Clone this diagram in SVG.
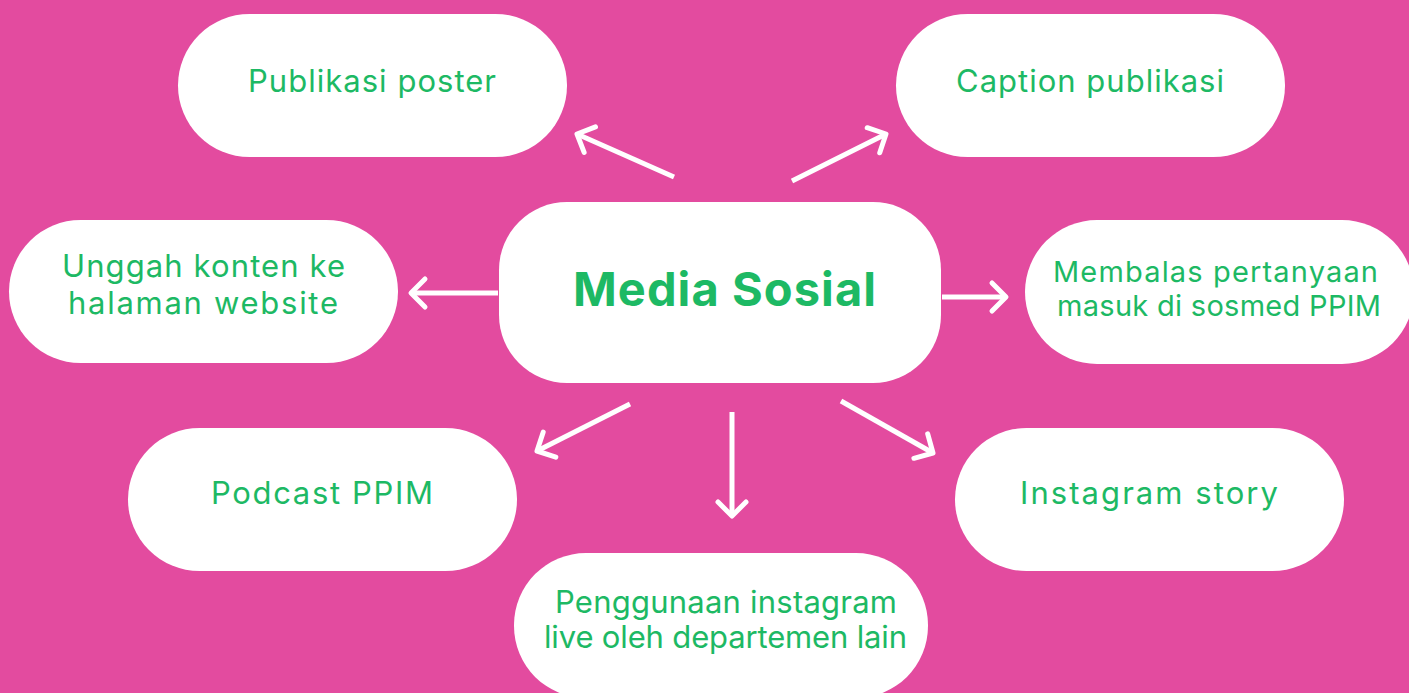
<svg xmlns="http://www.w3.org/2000/svg" width="1409" height="693" viewBox="0 0 1409 693">
<defs>
<style>
.node rect{fill:#ffffff}
.lbl{font-family:"Inter","Liberation Sans",sans-serif;font-size:31px;fill:#1DB964;text-anchor:middle}
.main{font-family:"Inter","Liberation Sans",sans-serif;font-size:47px;font-weight:700;fill:#1DB964;text-anchor:middle}
.conn line{stroke:#ffffff;stroke-width:5;marker-end:url(#ah)}
</style>
<marker id="ah" markerUnits="userSpaceOnUse" markerWidth="40" markerHeight="40" refX="20" refY="20" orient="auto" viewBox="0 0 40 40">
<polyline points="6,6 20,20 6,34" fill="none" stroke="#ffffff" stroke-width="5" stroke-linecap="round" stroke-linejoin="round"/>
</marker>
</defs>
<rect width="1409" height="693" fill="#E34B9F"/>
<g id="connectors" class="conn">
<line x1="674" y1="177" x2="577" y2="134"/>
<line x1="792" y1="181" x2="886" y2="134"/>
<line x1="498" y1="293" x2="411" y2="293"/>
<line x1="942" y1="297" x2="1006" y2="297"/>
<line x1="630" y1="404" x2="537" y2="451"/>
<line x1="732" y1="412" x2="732" y2="516"/>
<line x1="841" y1="401" x2="933" y2="453"/>
</g>
<g id="n-media" class="node"><rect x="499" y="202" width="442" height="181" rx="68"/><text class="main" x="724.5" y="306" textLength="303" lengthAdjust="spacing">Media Sosial</text></g>
<g id="n-poster" class="node"><rect x="178" y="14" width="389" height="143" rx="71.5"/><text class="lbl" x="372" y="92" textLength="248" lengthAdjust="spacing">Publikasi poster</text></g>
<g id="n-caption" class="node"><rect x="896" y="14" width="389" height="143" rx="71.5"/><text class="lbl" x="1090" y="92" textLength="268" lengthAdjust="spacing">Caption publikasi</text></g>
<g id="n-unggah" class="node"><rect x="9" y="220" width="389" height="143" rx="71.5"/><text class="lbl" x="203.5" y="277" textLength="283" lengthAdjust="spacing">Unggah konten ke</text><text class="lbl" x="203" y="314" textLength="270" lengthAdjust="spacing">halaman website</text></g>
<g id="n-membalas" class="node"><rect x="1025" y="220" width="389" height="144" rx="72"/><text class="lbl" x="1215.5" y="282" style="font-size:29px" textLength="325" lengthAdjust="spacing">Membalas pertanyaan</text><text class="lbl" x="1219" y="316" style="font-size:29px" textLength="324" lengthAdjust="spacing">masuk di sosmed PPIM</text></g>
<g id="n-podcast" class="node"><rect x="128" y="428" width="389" height="143" rx="71.5"/><text class="lbl" x="322" y="504" textLength="222" lengthAdjust="spacing">Podcast PPIM</text></g>
<g id="n-story" class="node"><rect x="955" y="428" width="389" height="143" rx="71.5"/><text class="lbl" x="1149" y="504" textLength="258" lengthAdjust="spacing">Instagram story</text></g>
<g id="n-live" class="node"><rect x="514" y="553" width="414" height="145" rx="72"/><text class="lbl" x="726" y="613" textLength="342" lengthAdjust="spacing">Penggunaan instagram</text><text class="lbl" x="725.5" y="648" textLength="363" lengthAdjust="spacing">live oleh departemen lain</text></g>
</svg>
